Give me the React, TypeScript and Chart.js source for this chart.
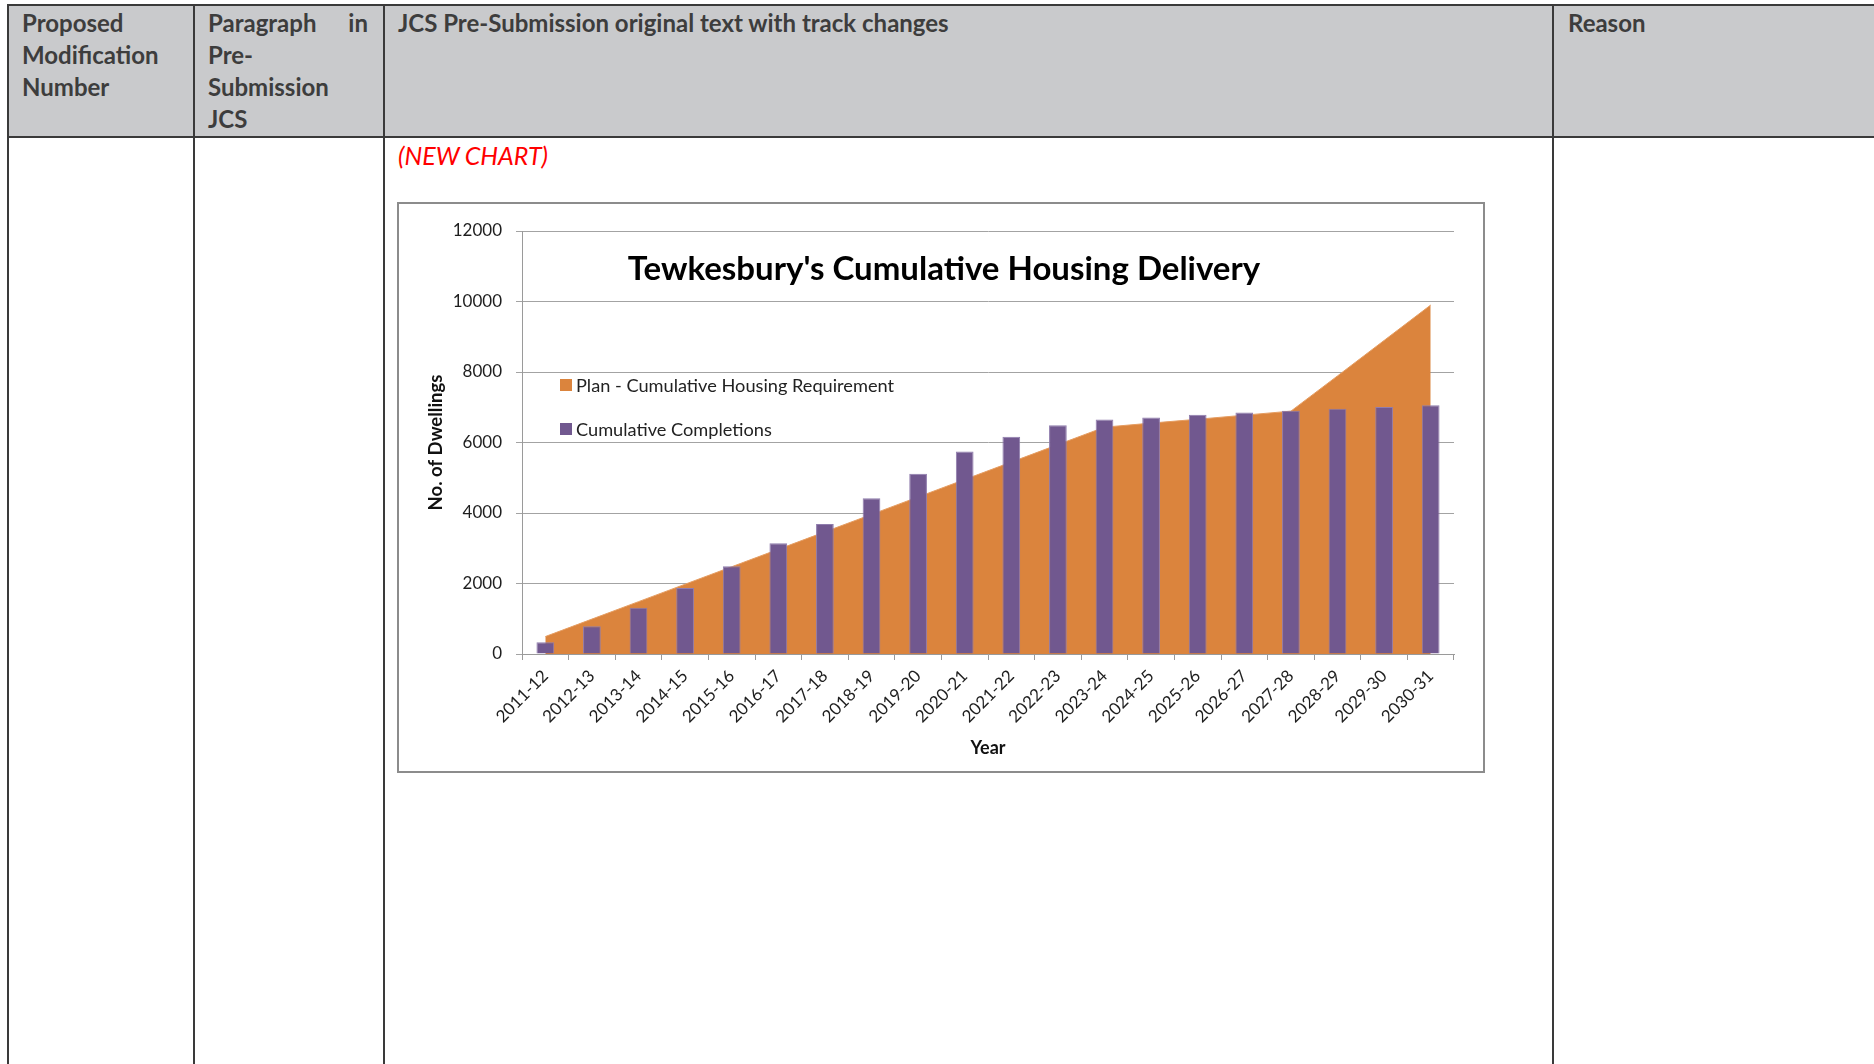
import React, { useEffect, useRef } from 'react';
import { Chart, registerables } from 'chart.js';

Chart.register(...registerables);

const categories = [
  '2011-12', '2012-13', '2013-14', '2014-15', '2015-16', '2016-17', '2017-18',
  '2018-19', '2019-20', '2020-21', '2021-22', '2022-23', '2023-24', '2024-25',
  '2025-26', '2026-27', '2027-28', '2028-29', '2029-30', '2030-31',
];

const planRequirement = [
  495, 990, 1485, 1980, 2475, 2970, 3465, 3960, 4455, 4950,
  5445, 5940, 6435, 6550, 6660, 6775, 6890, 7890, 8895, 9900,
];

const completions = [
  330, 790, 1310, 1870, 2490, 3140, 3690, 4415, 5115, 5745,
  6160, 6490, 6650, 6710, 6790, 6850, 6900, 6955, 7010, 7060,
];

const yTicks = [0, 2000, 4000, 6000, 8000, 10000, 12000];

const seriesNames = ['Plan - Cumulative Housing Requirement', 'Cumulative Completions'];
const seriesColors = ['#DB843D', '#71588F'];

const chartTitle = "Tewkesbury's Cumulative Housing Delivery";
const xTitle = 'Year';
const yTitle = 'No. of Dwellings';

const FONT = 'Lato, "Open Sans", sans-serif';

function HousingChart() {
  const ref = useRef<HTMLCanvasElement | null>(null);

  useEffect(() => {
    if (!ref.current) return;
    Chart.defaults.font.family = FONT;
    const chart = new Chart(ref.current, {
      type: 'bar',
      data: {
        labels: categories,
        datasets: [
          {
            type: 'bar',
            label: seriesNames[1],
            data: completions,
            backgroundColor: seriesColors[1],
            borderColor: '#8f7cad',
            borderWidth: 1,
            barPercentage: 0.38,
            categoryPercentage: 1,
            order: 1,
          } as any,
          {
            type: 'line',
            label: seriesNames[0],
            data: planRequirement,
            fill: 'origin',
            backgroundColor: seriesColors[0],
            borderColor: '#e59d62',
            borderWidth: 1,
            pointRadius: 0,
            tension: 0,
            order: 2,
          } as any,
        ],
      },
      options: {
        responsive: false,
        animation: false,
        devicePixelRatio: 1,
        layout: { padding: { top: 27, right: 29, left: 0, bottom: 0 } },
        plugins: {
          legend: { display: false },
          tooltip: { enabled: false },
          title: { display: false },
        },
        scales: {
          x: {
            offset: true,
            grid: {
              display: true,
              drawOnChartArea: false,
              drawTicks: true,
              tickLength: 6,
              color: '#9a9a9a',
              offset: true,
            },
            border: { display: true, color: '#9a9a9a', width: 1 },
            ticks: {
              maxRotation: 45,
              minRotation: 45,
              autoSkip: false,
              color: '#1e1e1e',
              font: { family: FONT, size: 17 },
              padding: 6,
            },
            title: {
              display: true,
              text: xTitle,
              color: '#111',
              font: { family: FONT, size: 18, weight: 'bold' },
              padding: { top: 0, bottom: 12 },
            },
            afterFit: (s: any) => {
              s.height = 117;
            },
          } as any,
          y: {
            min: yTicks[0],
            max: yTicks[yTicks.length - 1],
            ticks: {
              stepSize: yTicks[1] - yTicks[0],
              color: '#1e1e1e',
              font: { family: FONT, size: 17 },
              padding: 14,
              callback: (v: any) => String(v),
            },
            grid: { color: '#a3a3a3', tickLength: 6, lineWidth: 1 },
            border: { display: true, color: '#9a9a9a', width: 1 },
            title: {
              display: true,
              text: yTitle,
              color: '#111',
              font: { family: FONT, size: 18.5, weight: 'bold' },
              padding: { top: 26, bottom: 0 },
            },
            afterFit: (s: any) => {
              s.width = 123;
            },
          } as any,
        },
      },
    });
    let alive = true;
    if ((document as any).fonts && (document as any).fonts.ready) {
      (document as any).fonts.ready.then(() => {
        if (alive) chart.update();
      });
    }
    return () => {
      alive = false;
      chart.destroy();
    };
  }, []);

  return <canvas ref={ref} width={1084} height={567} style={{ display: 'block', width: 1084, height: 567 }} />;
}

const lineColor = '#3a3a3a';
const headerText = '#3d3d3d';

export default function App() {
  const vLines = [8, 194, 384, 1553];
  const headerStyle: React.CSSProperties = {
    position: 'absolute',
    fontFamily: FONT,
    fontWeight: 700,
    fontSize: 24,
    lineHeight: '32px',
    color: headerText,
    whiteSpace: 'nowrap',
  };
  return (
    <div
      style={{
        position: 'absolute',
        left: 0,
        top: 0,
        width: 1874,
        height: 1064,
        background: '#ffffff',
        overflow: 'hidden',
        fontFamily: FONT,
      }}
    >
      {/* header background */}
      <div style={{ position: 'absolute', left: 8, top: 5, width: 1866, height: 132, background: '#c9cacc' }} />
      {/* horizontal lines */}
      <div style={{ position: 'absolute', left: 7, top: 4, width: 1867, height: 2, background: lineColor }} />
      <div style={{ position: 'absolute', left: 7, top: 136, width: 1867, height: 2, background: lineColor }} />
      {/* vertical lines */}
      {vLines.map((x) => (
        <div key={x} style={{ position: 'absolute', left: x - 1, top: 4, width: 2, height: 1060, background: lineColor }} />
      ))}

      {/* header texts */}
      <div style={{ ...headerStyle, left: 22, top: 7 }}>
        Proposed<br />Modification<br />Number
      </div>
      <div style={{ ...headerStyle, left: 208, top: 7, width: 160 }}>
        <div style={{ display: 'flex', justifyContent: 'space-between' }}>
          <span>Paragraph</span>
          <span>in</span>
        </div>
        <div>Pre-</div>
        <div>Submission</div>
        <div>JCS</div>
      </div>
      <div style={{ ...headerStyle, left: 398, top: 7 }}>JCS Pre-Submission original text with track changes</div>
      <div style={{ ...headerStyle, left: 1568, top: 7 }}>Reason</div>

      {/* (NEW CHART) */}
      <div
        style={{
          position: 'absolute',
          left: 398,
          top: 139,
          fontFamily: FONT,
          fontStyle: 'italic',
          fontSize: 25,
          lineHeight: '32px',
          color: '#ff0000',
          whiteSpace: 'nowrap',
        }}
      >
        (NEW CHART)
      </div>

      {/* chart frame */}
      <div
        style={{
          position: 'absolute',
          left: 397,
          top: 202,
          width: 1088,
          height: 571,
          border: '2px solid #8c8c8c',
          boxSizing: 'border-box',
          background: '#fff',
        }}
      />
      <div style={{ position: 'absolute', left: 399, top: 204, width: 1084, height: 567 }}>
        <HousingChart />
      </div>

      {/* overlaid chart title */}
      <div
        style={{
          position: 'absolute',
          left: 544,
          top: 251,
          width: 800,
          textAlign: 'center',
          fontFamily: FONT,
          fontWeight: 700,
          fontSize: 33,
          lineHeight: '33px',
          color: '#000',
          whiteSpace: 'nowrap',
        }}
      >
        {chartTitle}
      </div>

      {/* overlaid legend */}
      {seriesNames.map((name, i) => (
        <div
          key={name}
          style={{
            position: 'absolute',
            left: 560,
            top: 374.5 + i * 44,
            height: 20,
            display: 'flex',
            alignItems: 'center',
            fontFamily: FONT,
            fontSize: 18.2,
            lineHeight: '20px',
            color: '#222',
            whiteSpace: 'nowrap',
          }}
        >
          <span style={{ display: 'inline-block', width: 12, height: 12, background: seriesColors[i], marginRight: 4 }} />
          <span>{name}</span>
        </div>
      ))}
    </div>
  );
}
